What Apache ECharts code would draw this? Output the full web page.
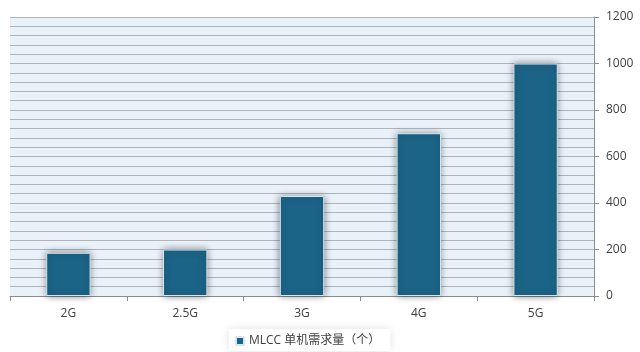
<!DOCTYPE html>
<html>
<head>
<meta charset="utf-8">
<script src="https://cdn.jsdelivr.net/npm/echarts@6/dist/echarts.min.js"></script>
<style>
  html, body { margin: 0; padding: 0; background: #ffffff; }
  #chart { width: 640px; height: 352px; }
</style>
</head>
<body>
<div id="chart"></div>
<script>
// MLCC demand per handset by network generation
const categories = ['2G', '2.5G', '3G', '4G', '5G'];
const demand = [186, 200, 430, 700, 1000];
const seriesName = 'MLCC 单机需求量（个）';
const yTicks = [0, 200, 400, 600, 800, 1000, 1200];

const chart = echarts.init(document.getElementById('chart'));
const font = '"Open Sans", "Noto Sans CJK SC", sans-serif';

chart.setOption({
  animation: false,
  grid: {
    left: 10, right: 46, top: 17, bottom: 56,
    show: true,
    backgroundColor: '#e9f1f9',
    borderWidth: 0
  },
  legend: {
    bottom: 1,
    left: 229,
    itemWidth: 8,
    itemHeight: 8,
    icon: 'rect',
    padding: [6, 10, 4, 6],
    backgroundColor: '#ffffff',
    shadowColor: 'rgba(0,0,0,0.12)',
    shadowBlur: 8,
    textStyle: { fontFamily: font, fontSize: 12, color: '#404040' },
    data: [seriesName]
  },
  xAxis: {
    type: 'category',
    data: categories,
    axisLine: { lineStyle: { color: '#8c8c8c', width: 1 } },
    axisTick: { show: true, alignWithLabel: false, length: 5, lineStyle: { color: '#8c8c8c' } },
    axisLabel: { fontFamily: font, fontSize: 12, color: '#404040', margin: 12 }
  },
  yAxis: {
    type: 'value',
    position: 'right',
    min: yTicks[0],
    max: yTicks[yTicks.length - 1],
    interval: 200,
    axisLine: { show: true, lineStyle: { color: '#8c8c8c' } },
    axisTick: { show: true, length: 5, lineStyle: { color: '#8c8c8c' } },
    axisLabel: {
      fontFamily: font, fontSize: 12, color: '#404040', margin: 12,
      formatter: (v) => String(v)
    },
    splitLine: { show: true, lineStyle: { color: '#b0b4b8', width: 1.2 } },
    minorTick: { show: false, splitNumber: 5 },
    minorSplitLine: { show: true, lineStyle: { color: '#b0b4b8', width: 1.2 } }
  },
  series: [{
    name: seriesName,
    type: 'bar',
    data: demand,
    barWidth: '38%',
    itemStyle: {
      color: '#1b6487',
      borderColor: '#d8e6ee',
      borderWidth: 1,
      shadowColor: 'rgba(0,0,0,0.45)',
      shadowBlur: 7,
      shadowOffsetX: 0,
      shadowOffsetY: 0
    }
  }]
});
</script>
</body>
</html>
